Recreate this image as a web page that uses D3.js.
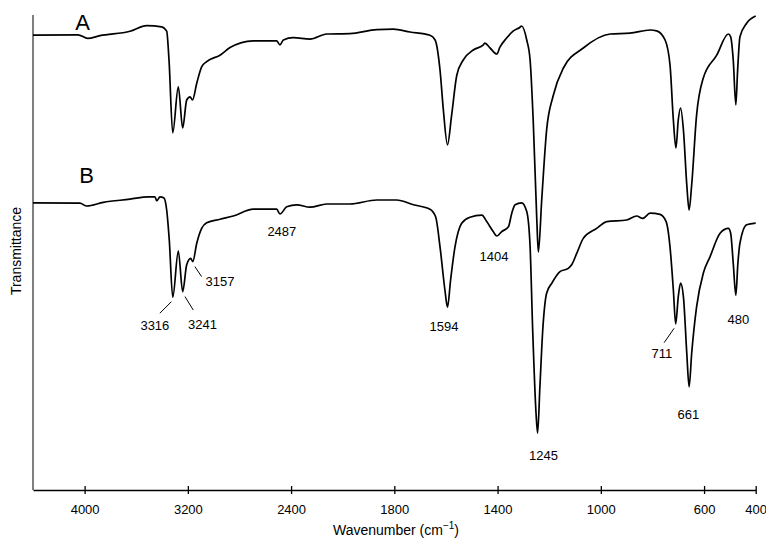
<!DOCTYPE html>
<html>
<head>
<meta charset="utf-8">
<script src="https://cdn.jsdelivr.net/npm/d3@7"></script>
<style>
  body { margin: 0; background: #fff; }
  text { font-family: "Liberation Sans", Arial, sans-serif; fill: #000; }
</style>
</head>
<body>
<script>
// spectrum A (upper trace), wavenumber in cm-1 and transmittance (arbitrary, offset)
const waveA = [4400, 4051, 3976, 3881, 3648, 3519, 3403, 3364, 3346, 3317,
  3274, 3240, 3209, 3183, 3164, 3131, 3093, 3054, 2951, 2873,
  2695, 2512, 2486, 2460, 2383, 2253, 2124, 1972, 1868, 1804,
  1739, 1662, 1642, 1623, 1610, 1594, 1578, 1558, 1533, 1494,
  1455, 1449, 1429, 1403, 1391, 1365, 1340, 1313, 1307, 1287,
  1274, 1262, 1248, 1242, 1229, 1210, 1184, 1145, 1068, 964,
  887, 809, 784, 751, 732, 719, 709, 700, 691, 680,
  667, 658, 648, 629, 603, 551, 506, 497, 487, 477,
  470, 461, 435, 400];
const transA = [113.2, 113.3, 112.4, 113.1, 114.2, 115.6, 115.3, 114.2, 107, 88.8,
  100.3, 90, 97, 97.8, 97, 101.2, 105.3, 106.6, 108.2, 110.1,
  111.8, 111.8, 110.8, 112, 112.6, 112.2, 113.5, 113.6, 114.6, 114.7,
  114, 113.2, 112, 104.5, 94.5, 85.8, 93.2, 103.2, 107, 109.5,
  110.8, 111.2, 110, 108.5, 110.2, 112.5, 114.2, 115.2, 115.5, 112,
  107, 92, 67, 59, 72, 89.5, 98.2, 105, 110, 113.5,
  113.7, 114.5, 114.3, 112, 105.8, 92, 85, 92, 95, 89.5,
  75.8, 69.5, 75.8, 93.2, 102.5, 108.2, 113.5, 112.8, 107, 95.8,
  104.5, 112.8, 116.2, 118];

// spectrum B (lower trace)
const waveB = [4400, 4036, 3984, 3855, 3648, 3507, 3455, 3441, 3416, 3385,
  3364, 3344, 3317, 3274, 3240, 3209, 3178, 3162, 3131, 3093,
  3054, 2951, 2848, 2693, 2512, 2486, 2434, 2356, 2253, 2124,
  1972, 1868, 1791, 1726, 1662, 1640, 1623, 1604, 1594, 1582,
  1565, 1539, 1507, 1461, 1442, 1417, 1403, 1384, 1358, 1345,
  1332, 1307, 1287, 1274, 1264, 1251, 1245, 1236, 1225, 1210,
  1190, 1158, 1126, 1113, 1093, 1068, 1016, 977, 900, 861,
  838, 809, 771, 747, 732, 719, 710, 700, 691, 680,
  667, 658, 648, 629, 603, 577, 538, 506, 497, 487,
  477, 469, 461, 435, 400];
const transB = [71.3, 71.2, 70.5, 71.4, 72.2, 72.8, 72.8, 71.8, 72.8, 72.5,
  69.5, 62, 47.7, 59.2, 49.1, 55.8, 57.4, 56.6, 61.2, 64.9,
  66.3, 67.2, 68, 69.7, 69.7, 68.5, 70.3, 70.8, 70.2, 71,
  71, 72, 72, 70.8, 69.7, 67.8, 60.3, 49.5, 45.2, 52,
  60.3, 66.2, 67.7, 68.2, 66.6, 64.1, 63, 64.1, 65.3, 68.7,
  70.8, 71.3, 69.1, 60.3, 39.5, 18.7, 13.7, 25.3, 39.5, 48.7,
  51.2, 54.1, 54.9, 55.8, 58.7, 62.4, 64.9, 66.6, 67, 68,
  67.4, 68.7, 68.4, 66.6, 60.3, 49.5, 41, 47.8, 51.2, 47.8,
  33.7, 25.3, 33.7, 45.3, 53.7, 57.8, 63.7, 64.9, 63.7, 56.2,
  48.2, 56.2, 61.2, 65.8, 66.2];

// peak labels on trace B and x-axis ticks
const peakLabels = [3316, 3241, 3157, 2487, 1594, 1404, 1245, 711, 661, 480];
const xTicks = [4000, 3200, 2400, 1800, 1400, 1000, 600, 400];

// label placement relative to the peak: [dx, dy] for text, optional leader line
const labelLayout = {
  3316: { t: [-18, 28], l: [-1.5, 4.5, -13, 16] },
  3241: { t: [20, 33], l: [2.4, 5, 10.7, 18.4] },
  3157: { t: [26.5, 20], l: [1.5, 5, 8.2, 15] },
  2487: { t: [2, 17] },
  1594: { t: [-3.5, 19] },
  1404: { t: [-2.5, 20] },
  1245: { t: [6, 22] },
  711:  { t: [-13.6, 29], l: [-1.3, 4.3, -11.3, 18.7] },
  661:  { t: [0, 28] },
  480:  { t: [3.4, 24] }
};

const width = 766, height = 538;
const left = 33, right = 755.7, bottom = 490;

const svg = d3.select('body').append('svg')
  .attr('width', width)
  .attr('height', height);

// IR style axis: scale doubles below 2000 cm-1
const xScale = d3.scaleLinear()
  .domain([4400, 2000, 400])
  .range([left, 342.7, right]);

const yScale = d3.scaleLinear()
  .domain([0, 122])
  .range([488, 0]);

const seriesA = waveA.map((w, i) => ({ w: w, v: transA[i] }));
const seriesB = waveB.map((w, i) => ({ w: w, v: transB[i] }));

const line = d3.line()
  .x(d => xScale(d.w))
  .y(d => yScale(d.v))
  .curve(d3.curveMonotoneX);

// y axis (no ticks)
svg.append('line')
  .attr('x1', left).attr('x2', left)
  .attr('y1', 15).attr('y2', bottom)
  .attr('stroke', '#555')
  .attr('stroke-width', 1.5);

// x axis
const xAxis = d3.axisBottom(xScale)
  .tickValues(xTicks)
  .tickFormat(d3.format('d'))
  .tickSizeOuter(0);

const xAxisGroup = svg.append('g')
  .attr('class', 'axis x-axis')
  .attr('transform', `translate(0, ${bottom})`)
  .call(xAxis);

xAxisGroup.select('.domain')
  .attr('stroke', '#000')
  .attr('stroke-width', 1.5);
xAxisGroup.selectAll('.tick line')
  .attr('y1', -4).attr('y2', 4)
  .attr('stroke', '#000')
  .attr('stroke-width', 1.3);
xAxisGroup.selectAll('.tick text')
  .attr('y', 19)
  .attr('dy', '0.35em')
  .attr('font-size', '13px')
  .attr('font-family', '"Liberation Sans", Arial, sans-serif')
  .attr('fill', '#000');

// spectra
[seriesA, seriesB].forEach(s => {
  svg.append('path')
    .datum(s)
    .attr('d', line)
    .attr('fill', 'none')
    .attr('stroke', '#000')
    .attr('stroke-width', 1.7)
    .attr('stroke-linejoin', 'round');
});

// trace letters
svg.append('text')
  .attr('x', 82.7).attr('y', 30)
  .attr('text-anchor', 'middle')
  .attr('font-size', '22px')
  .text('A');
svg.append('text')
  .attr('x', 86.7).attr('y', 182.7)
  .attr('text-anchor', 'middle')
  .attr('font-size', '22px')
  .text('B');

// peak labels
peakLabels.forEach(p => {
  const pt = d3.least(seriesB, d => Math.abs(d.w - p));
  const px = xScale(p), py = yScale(pt.v);
  const lay = labelLayout[p];
  svg.append('text')
    .attr('x', px + lay.t[0])
    .attr('y', py + lay.t[1])
    .attr('dy', '0.35em')
    .attr('text-anchor', 'middle')
    .attr('font-size', '13px')
    .text(p);
  if (lay.l) {
    svg.append('line')
      .attr('x1', px + lay.l[0]).attr('y1', py + lay.l[1])
      .attr('x2', px + lay.l[2]).attr('y2', py + lay.l[3])
      .attr('stroke', '#000')
      .attr('stroke-width', 1);
  }
});

// axis titles
const xTitle = svg.append('text')
  .attr('x', 396).attr('y', 535)
  .attr('text-anchor', 'middle')
  .attr('font-size', '14px');
xTitle.append('tspan').text('Wavenumber (cm');
xTitle.append('tspan').attr('dy', -6).attr('font-size', '10px').text('\u22121');
xTitle.append('tspan').attr('dy', 6).text(')');

svg.append('text')
  .attr('transform', 'translate(16, 251) rotate(-90)')
  .attr('dy', '0.35em')
  .attr('text-anchor', 'middle')
  .attr('font-size', '14px')
  .text('Transmittance');
</script>
</body>
</html>
